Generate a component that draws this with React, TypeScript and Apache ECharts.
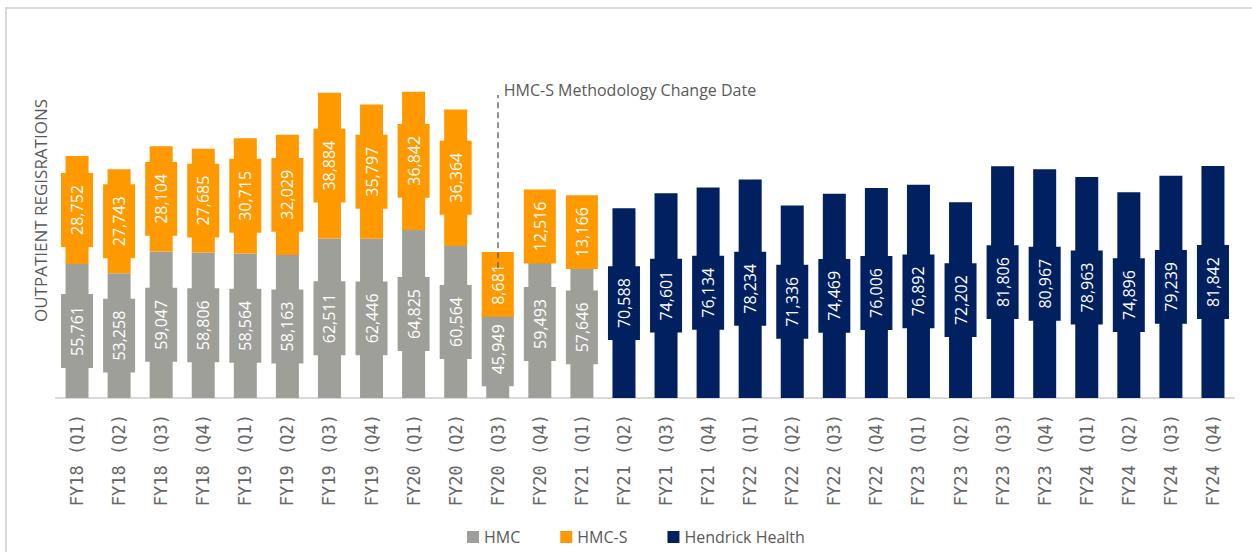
import React, { useEffect, useRef } from "react";
import * as echarts from "echarts";

const categories = [
  "FY18 (Q1)", "FY18 (Q2)", "FY18 (Q3)", "FY18 (Q4)",
  "FY19 (Q1)", "FY19 (Q2)", "FY19 (Q3)", "FY19 (Q4)",
  "FY20 (Q1)", "FY20 (Q2)", "FY20 (Q3)", "FY20 (Q4)",
  "FY21 (Q1)", "FY21 (Q2)", "FY21 (Q3)", "FY21 (Q4)",
  "FY22 (Q1)", "FY22 (Q2)", "FY22 (Q3)", "FY22 (Q4)",
  "FY23 (Q1)", "FY23 (Q2)", "FY23 (Q3)", "FY23 (Q4)",
  "FY24 (Q1)", "FY24 (Q2)", "FY24 (Q3)", "FY24 (Q4)",
];

const hmc = [55761, 53258, 59047, 58806, 58564, 58163, 62511, 62446, 64825, 60564, 45949, 59493, 57646];
const hmcS = [28752, 27743, 28104, 27685, 30715, 32029, 38884, 35797, 36842, 36364, 8681, 12516, 13166];
const hendrick = [70588, 74601, 76134, 78234, 71336, 74469, 76006, 76892, 72202, 81806, 80967, 78963, 74896, 79239, 81842];

const changeIndex = 10; // FY20 (Q3)
const changeLabel = "HMC-S Methodology Change Date";
const axisName = "OUTPATIENT REGISRATIONS";

const GRAY = "#9f9f9a";
const ORANGE = "#ff9900";
const NAVY = "#002060";
const TEXT = "#595959";

export default function App() {
  const ref = useRef<HTMLDivElement>(null);
  useEffect(() => {
    if (!ref.current) return;
    const chart = echarts.init(ref.current, null, { renderer: "svg" });
    const navyStart = categories.length - hendrick.length;
    const hmcData = categories.map((_, i) => (i < hmc.length ? hmc[i] : "-"));
    const hmcSData = categories.map((_, i) => (i < hmcS.length ? hmcS[i] : "-"));
    const navyData = categories.map((_, i) => (i >= navyStart ? hendrick[i - navyStart] : "-"));
    const fmt = (p: any) => Number(p.value).toLocaleString("en-US");
    const mkLabel = (bg: string) => ({
      show: true,
      position: "inside",
      rotate: 90,
      color: "#ffffff",
      fontFamily: "Open Sans",
      fontSize: 16,
      lineHeight: 18,
      backgroundColor: bg,
      padding: [7, 12, 7, 12],
      formatter: fmt,
    });
    const changeTop = hmc[changeIndex] + hmcS[changeIndex];
    chart.setOption({
      animation: false,
      graphic: [
        {
          type: "rect",
          shape: { x: 6, y: 8, width: 1300, height: 600 },
          style: { fill: "none", stroke: "#d9d9d9", lineWidth: 2 },
          silent: true,
        },
      ],
      grid: { left: 56, right: 18, top: 23, bottom: 154 },
      legend: {
        data: ["HMC", "HMC-S", "Hendrick Health"],
        left: 462,
        top: 524,
        itemWidth: 12,
        itemHeight: 12,
        itemGap: 40,
        icon: "rect",
        textStyle: { color: TEXT, fontFamily: "Open Sans", fontSize: 16 },
      },
      xAxis: {
        type: "category",
        data: categories,
        axisLine: { show: true, lineStyle: { color: "#d9d9d9", width: 2 } },
        axisTick: { show: false },
        axisLabel: {
          rotate: 90,
          margin: 16,
          color: "#666666",
          fontFamily: "DejaVu Sans Mono",
          fontSize: 17,
          interval: 0,
        },
      },
      yAxis: {
        type: "value",
        min: 20000,
        max: 120000,
        name: axisName,
        nameLocation: "middle",
        nameGap: 7,
        nameTextStyle: { color: TEXT, fontFamily: "Open Sans", fontSize: 17 },
        axisLine: { show: false },
        axisTick: { show: false },
        axisLabel: { show: false },
        splitLine: { show: false },
      },
      series: [
        {
          name: "HMC",
          type: "bar",
          stack: "total",
          barWidth: 23,
          data: hmcData,
          itemStyle: { color: GRAY },
          label: mkLabel(GRAY),
        },
        {
          name: "HMC-S",
          type: "bar",
          stack: "total",
          barWidth: 23,
          data: hmcSData,
          itemStyle: { color: ORANGE },
          label: mkLabel(ORANGE),
        },
        {
          name: "Hendrick Health",
          type: "bar",
          stack: "total",
          barWidth: 23,
          data: navyData,
          itemStyle: { color: NAVY },
          label: mkLabel(NAVY),
          markLine: {
            silent: true,
            symbol: ["none", "none"],
            label: { show: false },
            lineStyle: { color: "#6b6b6b", type: [6, 4], width: 1.5 },
            data: [
              [
                { coord: [categories[changeIndex], changeTop] },
                { coord: [categories[changeIndex], 100800] },
              ],
            ],
          },
          markPoint: {
            silent: true,
            symbol: "circle",
            symbolSize: 0,
            data: [{ coord: [categories[changeIndex], 102200] }],
            label: {
              show: true,
              position: "right",
              distance: 6,
              formatter: changeLabel,
              color: TEXT,
              fontFamily: "Open Sans",
              fontSize: 16,
            },
          },
        },
      ],
    });
    return () => chart.dispose();
  }, []);
  return (
    <div
      ref={ref}
      style={{ position: "fixed", left: 0, top: 0, width: 1252, height: 552, background: "#ffffff" }}
    />
  );
}
